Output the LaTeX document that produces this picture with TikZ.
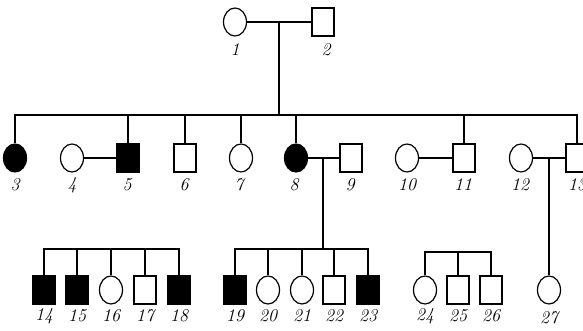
\documentclass[tikz,border=0pt]{standalone}
\usepackage{tikz}
\usetikzlibrary{shapes.geometric}
\tikzset{
    fem/.style   ={draw=black, line width=1.2pt, fill=white, ellipse,
                   minimum width=23pt, minimum height=28pt, inner sep=0pt},
    mal/.style   ={draw=black, line width=1.2pt, fill=white, rectangle,
                   minimum width=22pt, minimum height=28pt, inner sep=0pt},
    femaff/.style={fem, fill=black},
    malaff/.style={mal, fill=black},
    ln/.style    ={draw=black, line width=1.2pt},
    lbl/.style   ={font=\fontsize{18}{18}\selectfont\itshape, inner sep=0pt}
}

\begin{document}
\begin{tikzpicture}[x=1pt, y=-1pt]
  \useasboundingbox (0,0) rectangle (583,331);

  % generation I
  \node[fem] (p1) at (235,22) {};
  \node[mal] (p2) at (323,22) {};
  \node[lbl] (n1) at (235,50) {1};
  \node[lbl] (n2) at (326,50) {2};

  % generation II
  \node[femaff] (p3)  at (15,158)  {};
  \node[fem]    (p4)  at (72,158)  {};
  \node[malaff] (p5)  at (128,158) {};
  \node[mal]    (p6)  at (185,158) {};
  \node[fem]    (p7)  at (241,158) {};
  \node[femaff] (p8)  at (296,158) {};
  \node[mal]    (p9)  at (351,158) {};
  \node[fem]    (p10) at (407,158) {};
  \node[mal]    (p11) at (464,158) {};
  \node[fem]    (p12) at (521,158) {};
  \node[mal]    (p13) at (577,158) {};
  \node[lbl] (n3)  at (15,185)  {3};
  \node[lbl] (n4)  at (72,185)  {4};
  \node[lbl] (n5)  at (127,185) {5};
  \node[lbl] (n6)  at (184,185) {6};
  \node[lbl] (n7)  at (239,185) {7};
  \node[lbl] (n8)  at (294,185) {8};
  \node[lbl] (n9)  at (350,185) {9};
  \node[lbl] (n10) at (407,185) {10};
  \node[lbl] (n11) at (463,185) {11};
  \node[lbl] (n12) at (520,185) {12};
  \node[lbl] (n13) at (577,185) {13};

  % generation III
  \node[malaff] (p14) at (44,290)  {};
  \node[malaff] (p15) at (77,290)  {};
  \node[fem]    (p16) at (111,290) {};
  \node[mal]    (p17) at (145,290) {};
  \node[malaff] (p18) at (179,290) {};
  \node[malaff] (p19) at (235,290) {};
  \node[fem]    (p20) at (268,290) {};
  \node[fem]    (p21) at (302,290) {};
  \node[mal]    (p22) at (334,290) {};
  \node[malaff] (p23) at (368,290) {};
  \node[fem]    (p24) at (425,290) {};
  \node[mal]    (p25) at (458,290) {};
  \node[mal]    (p26) at (491,290) {};
  \node[fem]    (p27) at (549,290) {};
  \node[lbl] (n14) at (44,316)  {14};
  \node[lbl] (n15) at (77,316)  {15};
  \node[lbl] (n16) at (111,316) {16};
  \node[lbl] (n17) at (145,316) {17};
  \node[lbl] (n18) at (179,316) {18};
  \node[lbl] (n19) at (235,316) {19};
  \node[lbl] (n20) at (268,316) {20};
  \node[lbl] (n21) at (302,316) {21};
  \node[lbl] (n22) at (334,316) {22};
  \node[lbl] (n23) at (368,316) {23};
  \node[lbl] (n24) at (425,316) {24};
  \node[lbl] (n25) at (458,316) {25};
  \node[lbl] (n26) at (491,316) {26};
  \node[lbl] (n27) at (549,318) {27};

  % marriages
  \coordinate (m12)   at (279,22);
  \coordinate (m89)   at (323,158);
  \coordinate (m1213) at (549,158);
  \draw[ln] (p1) -- (p2);
  \draw[ln] (p4) -- (p5);
  \draw[ln] (p8) -- (p9);
  \draw[ln] (p10) -- (p11);
  \draw[ln] (p12) -- (p13);

  % sibship of I
  \coordinate (sib) at (279,115);
  \draw[ln] (m12) -- (sib);
  \draw[ln] (p3.north) -- (p3.north |- sib) -- (p13.north |- sib) -- (p13.north);
  \foreach \k in {5,6,7,8,11}
    \draw[ln] (p\k.north) -- (p\k.north |- sib);

  % sibships of III
  \coordinate (sibA) at (44,249);
  \coordinate (sibB) at (323,249);
  \coordinate (sibC) at (425,252);
  \draw[ln] (p14.north) -- (p14.north |- sibA) -- (p18.north |- sibA) -- (p18.north);
  \foreach \k in {15,16,17}
    \draw[ln] (p\k.north) -- (p\k.north |- sibA);
  \draw[ln] (m89) -- (sibB);
  \draw[ln] (p19.north) -- (p19.north |- sibB) -- (p23.north |- sibB) -- (p23.north);
  \foreach \k in {20,21,22}
    \draw[ln] (p\k.north) -- (p\k.north |- sibB);
  \draw[ln] (p24.north) -- (p24.north |- sibC) -- (p26.north |- sibC) -- (p26.north);
  \draw[ln] (p25.north) -- (p25.north |- sibC);
  \draw[ln] (m1213) -- (p27.north);
\end{tikzpicture}
\end{document}
